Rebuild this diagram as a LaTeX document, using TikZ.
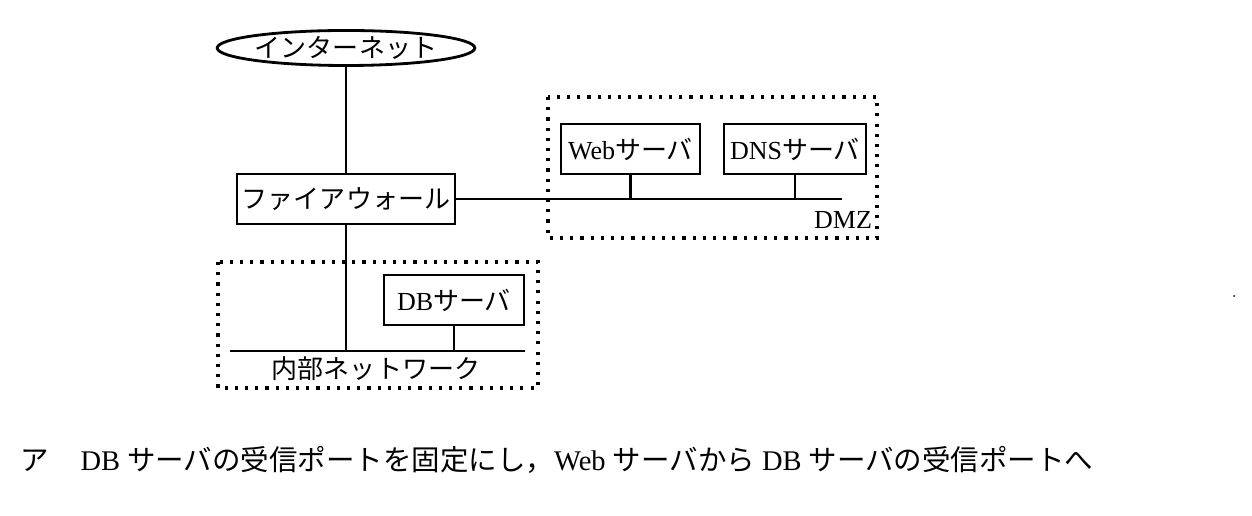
\documentclass[tikz,border=0pt]{standalone}
\usepackage{fontspec}
\setmainfont{Liberation Serif}
\newfontfamily\cjk{Noto Sans CJK JP}
\newcommand{\J}[1]{{\cjk #1}}
\usetikzlibrary{shapes.geometric}
\begin{document}
\begin{tikzpicture}[x=0.01cm,y=-0.01cm,
  lbl/.style={font=\fontsize{7.4}{8}\selectfont,inner sep=0pt},
  box/.style={draw,line width=0.8pt,lbl},
  zone/.style={draw,line width=0.9pt,dotted},
  wire/.style={line width=0.8pt}]
\useasboundingbox (0,0) rectangle (1252,516);
\node[draw,ellipse,line width=0.8pt,lbl,minimum width=2.25cm,minimum height=0.35cm] (inet) at (346,48) {\J{インターネット}};
\node[box,minimum width=2.18cm,minimum height=0.5cm] (fw) at (346,199) {\J{ファイアウォール}};
\draw[zone] (548,97) rectangle (877,238);
\draw[zone] (218,262) rectangle (538,388);
\node[box,minimum width=1.39cm,minimum height=0.5cm] (web) at (630.5,149) {Web\J{サーバ}};
\node[box,minimum width=1.42cm,minimum height=0.5cm] (dns) at (795,149) {DNS\J{サーバ}};
\node[box,minimum width=1.40cm,minimum height=0.5cm] (db) at (454,300) {DB\J{サーバ}};
\coordinate (dend) at (842,199);
\coordinate (il) at (230,351);
\coordinate (ir) at (525,351);
\draw[wire] (inet) -- (fw);
\draw[wire] (fw.east) -- (dend);
\draw[wire] (web) -- (web |- dend);
\draw[wire] (dns) -- (dns |- dend);
\draw[wire] (il) -- (ir);
\draw[wire] (fw) -- (fw |- il);
\draw[wire] (db) -- (db |- il);
\node[lbl] (dmz) at (843,220) {DMZ};
\node[lbl] (inl) at (376,369) {\J{内部ネットワーク}};
\node[anchor=west,inner sep=0pt,font=\fontsize{8.1}{9}\selectfont] (q) at (20,460)
 {\J{ア}\hspace{1.1em}DB \J{サーバの受信ポートを固定にし，}Web \J{サーバから} DB \J{サーバの受信ポートへ}};
\fill (1234,296) circle (1);
\end{tikzpicture}
\end{document}
